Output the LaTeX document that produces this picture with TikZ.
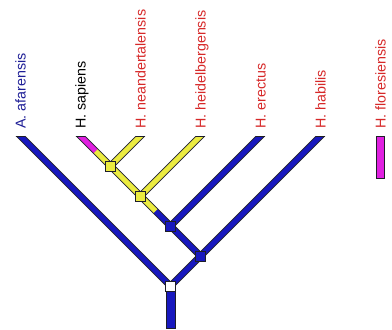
\documentclass[tikz,border=0pt]{standalone}
\usepackage{fontspec}
\setmainfont{Liberation Sans}
\usetikzlibrary{calc}
\definecolor{bblue}{RGB}{24,24,190}
\definecolor{byel}{RGB}{236,236,64}
\definecolor{bmag}{RGB}{224,32,224}
\definecolor{bout}{RGB}{30,30,40}
\definecolor{tred}{RGB}{214,40,40}
\definecolor{tblue}{RGB}{30,30,150}
\begin{document}
\begin{tikzpicture}[x=0.75pt,y=-0.75pt,
  outl/.style={line width=5.25pt, draw=bout},
  fb/.style={line width=3.75pt, draw=bblue},
  fy/.style={line width=3.75pt, draw=byel},
  fm/.style={line width=3.75pt, draw=bmag},
  sq/.style={draw=bout, line width=0.75pt, minimum size=7.5pt, inner sep=0pt, rectangle},
  edge/.style={draw=bout, line width=0.75pt},
  lab/.style={rotate=90, anchor=base west, inner sep=0pt, font=\fontsize{10.7}{12}\selectfont}]
\useasboundingbox (0,0) rectangle (392,329);
% tips
\coordinate (tA) at (20.5,136);
\coordinate (tS) at (80.5,136);
\coordinate (tN) at (140.5,136);
\coordinate (tH) at (200.5,136);
\coordinate (tE) at (260.5,136);
\coordinate (tB) at (320.5,136);
\coordinate (tF) at (380.5,136);
% inner nodes
\coordinate (cr) at (170.5,286);
\coordinate (c2) at (200.5,256);
\coordinate (c3) at (170.5,226);
\coordinate (c4) at (140.5,196);
\coordinate (c5) at (110.5,166);
\coordinate (m34) at ($(c3)!0.5!(c4)$);
\coordinate (mS) at ($(c5)!0.5!(tS)$);
% extended tips (cut by clip)
\coordinate (xA) at ($(tA)+(-6,-6)$);
\coordinate (xS) at ($(tS)+(-6,-6)$);
\coordinate (xN) at ($(tN)+(6,-6)$);
\coordinate (xH) at ($(tH)+(6,-6)$);
\coordinate (xE) at ($(tE)+(6,-6)$);
\coordinate (xB) at ($(tB)+(6,-6)$);
% trunk
\draw[edge, fill=bblue] ($(cr)+(-4.5,0)$) rectangle ($(cr)+(4.5,42)$);
\begin{scope}
\clip (0,136) rectangle (392,329);
\draw[outl] (cr) -- (xA);
\draw[outl] (cr) -- (xB);
\draw[outl] (c2) -- (c3);
\draw[outl] (c3) -- (xE);
\draw[outl] (c3) -- (c4);
\draw[outl] (c4) -- (xH);
\draw[outl] (c4) -- (c5);
\draw[outl] (c5) -- (xN);
\draw[outl] (c5) -- (xS);
\draw[fb] (cr) -- (xA);
\draw[fb] (cr) -- (xB);
\draw[fb] (c2) -- (c3);
\draw[fb] (c3) -- (xE);
\draw[fb] (c3) -- (m34);
\draw[fy] (m34) -- (c4);
\draw[fy] (c4) -- (xH);
\draw[fy] (c4) -- (c5);
\draw[fy] (c5) -- (xN);
\draw[fy] (c5) -- (mS);
\draw[fm] (mS) -- (xS);
\end{scope}
% top edges
\foreach \t in {tA,tS,tN,tH,tE,tB}
  \draw[edge] ($(\t)+(-4.95,0)$) -- ($(\t)+(4.95,0)$);
% floresiensis bar
\node[sq, fill=bmag, minimum width=6.4pt, minimum height=31.5pt, anchor=north] (fbar) at (tF) {};
% node squares
\node[sq, fill=white] (root) at (cr) {};
\node[sq, fill=bblue] (n2) at (c2) {};
\node[sq, fill=bblue] (n3) at (c3) {};
\node[sq, fill=byel] (n4) at (c4) {};
\node[sq, fill=byel] (n5) at (c5) {};
% labels
\node[lab, text=tblue] (lA) at ($(tA)+(5.1,-7)$) {A. afarensis};
\node[lab, text=black] (lS) at ($(tS)+(5.1,-7)$) {H. sapiens};
\node[lab, text=tred] (lN) at ($(tN)+(5.1,-7)$) {H. neandertalensis};
\node[lab, text=tred] (lH) at ($(tH)+(5.1,-7)$) {H. heidelbergensis};
\node[lab, text=tred] (lE) at ($(tE)+(5.1,-7)$) {H. erectus};
\node[lab, text=tred] (lB) at ($(tB)+(5.1,-7)$) {H. habilis};
\node[lab, text=tred] (lF) at ($(tF)+(5.1,-7)$) {H. floresiensis};
\end{tikzpicture}
\end{document}
